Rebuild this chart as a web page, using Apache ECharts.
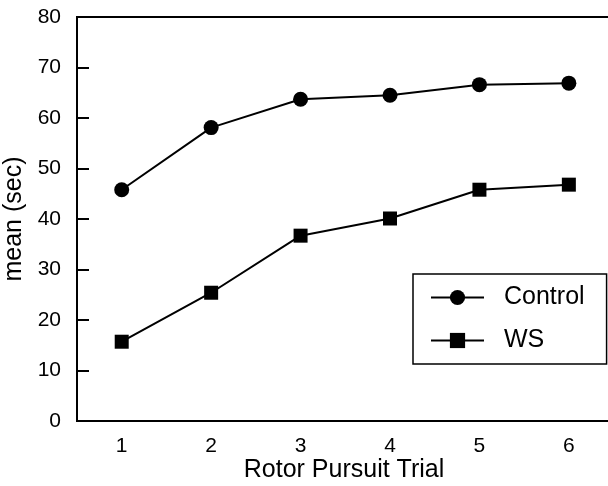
<!DOCTYPE html>
<html>
<head>
<meta charset="utf-8">
<script src="https://cdn.jsdelivr.net/npm/echarts@6/dist/echarts.min.js"></script>
<style>html,body{margin:0;padding:0;background:#fff}#c{width:608px;height:486px}</style>
</head>
<body>
<div id="c"></div>
<script>
const trials = ['1', '2', '3', '4', '5', '6', ''];
const control = [45.8, 58.1, 63.7, 64.5, 66.6, 66.9];
const ws = [15.7, 25.4, 36.7, 40.1, 45.8, 46.8];
const yTicks = { min: 0, max: 80, interval: 10 };
const FONT = 'Liberation Sans, Arial, Helvetica, sans-serif';

const chart = echarts.init(document.getElementById('c'));
chart.setOption({
  animation: false,
  backgroundColor: '#fff',
  grid: { left: 77, top: 17, height: 404, width: 626, outerBoundsMode: 'none', containLabel: false,
          show: true, borderColor: '#000', borderWidth: 2, backgroundColor: 'transparent' },
  xAxis: {
    type: 'category', data: trials, boundaryGap: true,
    axisLine: { lineStyle: { color: '#000', width: 2 } },
    axisTick: { show: false },
    axisLabel: { color: '#000', fontSize: 21, fontFamily: FONT, margin: 15 },
    splitLine: { show: false }
  },
  yAxis: {
    type: 'value', min: yTicks.min, max: yTicks.max, interval: yTicks.interval,
    name: 'mean (sec)', nameLocation: 'middle', nameGap: 47,
    nameTextStyle: { color: '#000', fontSize: 25, fontFamily: FONT },
    axisLine: { show: true, lineStyle: { color: '#000', width: 2 } },
    axisTick: { show: true, inside: true, length: 12, lineStyle: { color: '#000', width: 2 } },
    axisLabel: { color: '#000', fontSize: 21, fontFamily: FONT, margin: 16 },
    splitLine: { show: false }
  },
  legend: {
    orient: 'vertical', left: 413, top: 274,
    padding: [11, 22, 11, 17],
    itemWidth: 53, itemHeight: 19, itemGap: 18,
    borderColor: '#000', borderWidth: 1.5, backgroundColor: '#fff',
    textStyle: { color: '#000', fontSize: 25, fontFamily: FONT, padding: [0, 0, 0, 15] },
    data: ['Control', 'WS']
  },
  graphic: [{
    type: 'text', x: 344, y: 470,
    style: { text: 'Rotor Pursuit Trial', fill: '#000', fontSize: 25, fontFamily: FONT, align: 'center', verticalAlign: 'middle' }
  }],
  series: [
    { name: 'Control', type: 'line', data: control, symbol: 'circle', symbolSize: 15,
      itemStyle: { color: '#000' }, lineStyle: { color: '#000', width: 2 } },
    { name: 'WS', type: 'line', data: ws, symbol: 'rect', symbolSize: 14,
      itemStyle: { color: '#000' }, lineStyle: { color: '#000', width: 2 } }
  ]
});
</script>
</body>
</html>
